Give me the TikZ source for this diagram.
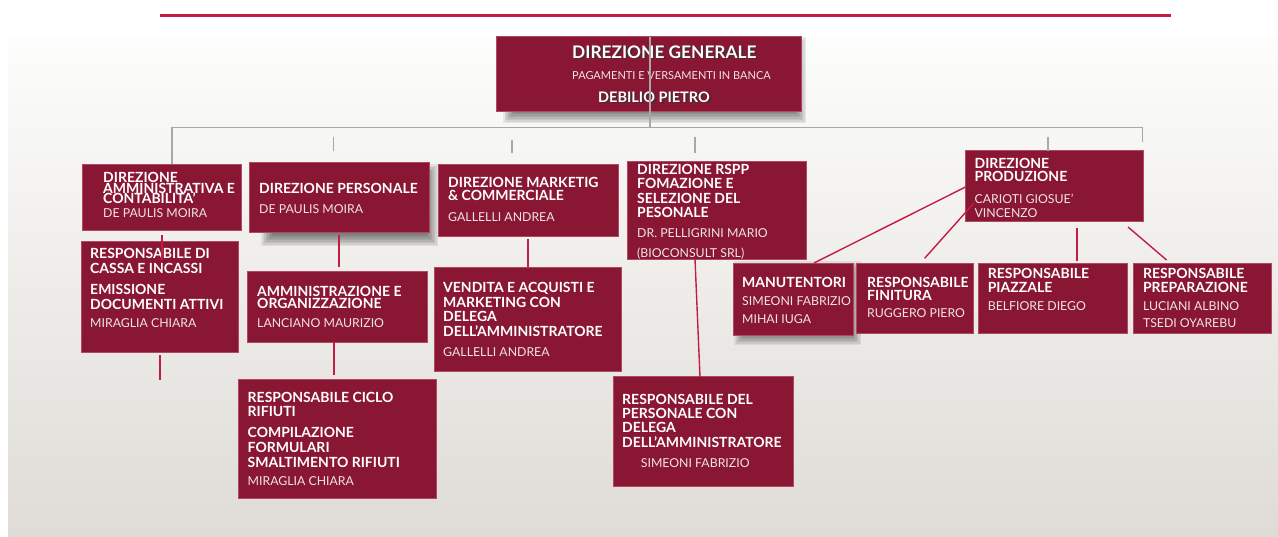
\documentclass[tikz,border=0pt]{standalone}
\usepackage{fontspec}
\setmainfont{Lato}
\definecolor{boxc}{RGB}{137,22,50}
\definecolor{boxedge}{RGB}{176,72,100}
\definecolor{redline}{RGB}{196,28,66}
\definecolor{treeg}{RGB}{168,168,168}
\definecolor{bgtop}{RGB}{253,253,252}
\definecolor{bgbot}{RGB}{223,220,215}
\definecolor{nmtext}{RGB}{240,228,232}
\newcommand\nolsk{\lineskiplimit=-50pt\relax\lineskip=0pt\relax}
% soft drop shadow: x1 y1 x2 y2 dx dy
\newcommand\softshadow[6]{%
  \foreach \k in {0,...,8}{%
    \pgfmathsetmacro\ee{6-1.5*\k}%
    \fill[black, opacity=0.07] ({#1+#5-\ee},{#2+#6-\ee}) rectangle ({#3+#5+\ee},{#4+#6+\ee});
  }}
\tikzset{
  box/.style={fill=boxc, draw=boxedge, line width=0.8pt, anchor=north west, inner sep=0pt, outer sep=0pt},
  hd/.style={anchor=north west, inner sep=0pt, text=white, align=left,
    font={\bfseries\fontsize{14}{#1}\selectfont\nolsk}},
  hd/.default=14.5,
  nm/.style={anchor=north west, inner sep=0pt, text=nmtext, align=left,
    font={\fontsize{12.3}{#1}\selectfont\nolsk}},
  nm/.default=14,
  conn/.style={draw=redline, line width=1.4pt},
  tree/.style={draw=treeg, line width=1.6pt},
  dgbig/.style={anchor=west, inner sep=0pt, font={\bfseries\fontsize{17.3}{19}\selectfont}},
  dgsmall/.style={anchor=west, inner sep=0pt, font={\fontsize{11}{13}\selectfont}},
  dgname/.style={anchor=west, inner sep=0pt, font={\bfseries\fontsize{14.5}{16}\selectfont}},
}
\begin{document}
\begin{tikzpicture}[x=1pt,y=-1pt]
\useasboundingbox (0,0) rectangle (1278,536);
\fill[white] (0,0) rectangle (1278,536);
\shade[top color=bgtop, bottom color=bgbot] (8,37) rectangle (1278,536);
% top bar
\coordinate (barL) at (160,15);
\coordinate (barR) at (1171,15);
\draw[redline, line width=3pt] (barL) -- (barR);

% ---------- shadows ----------
\softshadow{506}{36}{797}{110}{3}{7}
\softshadow{262}{162}{427}{232}{5}{8}
\softshadow{738}{263}{853}{335}{2}{4}

% ---------- boxes ----------
\node[box, minimum width=305pt, minimum height=75pt] (dg) at (496,36) {};
\node[box, minimum width=159pt, minimum height=66pt] (amm) at (82,164) {};
\node[box, minimum width=157pt, minimum height=111pt] (cassa) at (81,241) {};
\node[box, minimum width=180pt, minimum height=70pt] (pers) at (249,162) {};
\node[box, minimum width=180pt, minimum height=71pt] (ao) at (247,271) {};
\node[box, minimum width=198pt, minimum height=119pt] (ciclo) at (238,379) {};
\node[box, minimum width=180pt, minimum height=72pt] (mkt) at (438,164) {};
\node[box, minimum width=187pt, minimum height=104pt] (vend) at (434,267) {};
\node[box, minimum width=179pt, minimum height=98pt] (rspp) at (627,161) {};
\node[box, minimum width=180pt, minimum height=110pt] (rpers) at (613.5,376) {};
\node[box, minimum width=178pt, minimum height=71pt] (prod) at (965,150) {};
\node[box, minimum width=120pt, minimum height=72pt] (man) at (733,263) {};
\node[box, minimum width=117pt, minimum height=70pt] (fin) at (856,263) {};
\node[box, minimum width=149pt, minimum height=70pt] (piaz) at (978,263) {};
\node[box, minimum width=138pt, minimum height=70pt] (prep) at (1133,263) {};

% ---------- texts ----------
\node[dgbig, text=black!80, opacity=0.7] (dgt1s) at (574,53.5) {DIREZIONE GENERALE};
\node[dgbig, text=white] (dgt1) at (572,52) {DIREZIONE GENERALE};
\node[dgsmall, text=nmtext] (dgt2) at (572,76) {PAGAMENTI E VERSAMENTI IN BANCA};
\node[dgname, text=black!80, opacity=0.7] (dgt3s) at (600,98.5) {DEBILIO PIETRO};
\node[dgname, text=white] (dgt3) at (598,97) {DEBILIO PIETRO};

\node[hd=10.5] (ammh) at (103,172.5) {DIREZIONE\\AMMINISTRATIVA E\\CONTABILITA’};
\node[nm] (ammn) at (103,208.6) {DE PAULIS MOIRA};

\node[hd=15] (cassah) at (90,248) {RESPONSABILE DI\\CASSA E INCASSI\\[6pt]EMISSIONE\\DOCUMENTI ATTIVI};
\node[nm] (cassan) at (90,318.6) {MIRAGLIA CHIARA};

\node[hd] (persh) at (259,183) {DIREZIONE PERSONALE};
\node[nm] (persn) at (259,204.6) {DE PAULIS MOIRA};

\node[hd=12.5] (aoh) at (257,286) {AMMINISTRAZIONE E\\ORGANIZZAZIONE};
\node[nm] (aon) at (257,318.6) {LANCIANO MAURIZIO};

\node[hd=14.8] (cicloh) at (247.5,391.7) {RESPONSABILE CICLO\\RIFIUTI\\[6pt]COMPILAZIONE\\FORMULARI\\SMALTIMENTO RIFIUTI};
\node[nm] (ciclon) at (247.5,476.3) {MIRAGLIA CHIARA};

\node[hd=13] (mkth) at (448,177) {DIREZIONE MARKETIG\\\& COMMERCIALE};
\node[nm] (mktn) at (448,212.6) {GALLELLI ANDREA};

\node[hd=14.7] (vendh) at (443,282) {VENDITA E ACQUISTI E\\MARKETING CON\\DELEGA\\DELL’AMMINISTRATORE};
\node[nm] (vendn) at (443,347.6) {GALLELLI ANDREA};

\node[hd=14.3] (rspph) at (637,164) {DIREZIONE RSPP\\FOMAZIONE E\\SELEZIONE DEL\\PESONALE};
\node[nm=20] (rsppn) at (637,228.6) {DR. PELLIGRINI MARIO\\(BIOCONSULT SRL)};

\node[hd=14.2] (rpersh) at (622,394) {RESPONSABILE DEL\\PERSONALE CON\\DELEGA\\DELL’AMMINISTRATORE};
\node[nm] (rpersn) at (640.7,458.3) {SIMEONI FABRIZIO};

\node[hd=13.3] (prodh) at (974.4,157.7) {DIREZIONE\\PRODUZIONE};
\node[nm=14] (prodn) at (974.4,193.6) {CARIOTI GIOSUE'\\VINCENZO};

\node[hd] (manh) at (742,276.7) {MANUTENTORI};
\node[nm=18] (mann) at (742,296.6) {SIMEONI FABRIZIO\\MIHAI IUGA};

\node[hd=13.3] (finh) at (867,276.7) {RESPONSABILE\\FINITURA};
\node[nm] (finn) at (867,308.6) {RUGGERO PIERO};

\node[hd=13.3] (piazh) at (987.6,268.3) {RESPONSABILE\\PIAZZALE};
\node[nm] (piazn) at (987.6,301.3) {BELFIORE DIEGO};

\node[hd=13.3] (preph) at (1142.8,268.3) {RESPONSABILE\\PREPARAZIONE};
\node[nm=17] (prepn) at (1142.8,301.3) {LUCIANI ALBINO\\TSEDI OYAREBU};

% ---------- gray tree ----------
\coordinate (dgtop) at (650,37);
\coordinate (hub) at (650,127.3);
\coordinate (hL) at (171.7,127.3);
\coordinate (hR) at (1142.3,127.3);
\coordinate (dL) at (171.7,163.5);
\coordinate (dR) at (1142.3,142.3);
\coordinate (t1a) at (333.3,136.7); \coordinate (t1b) at (333.3,150.7);
\coordinate (t2a) at (511.7,140);   \coordinate (t2b) at (511.7,152.7);
\coordinate (t3a) at (695,136.7);   \coordinate (t3b) at (695,153);
\coordinate (t4a) at (1047.7,136.7);\coordinate (t4b) at (1047.7,150.7);
\draw[tree] (dgtop) -- (hub);
\draw[tree] (dL) -- (hL) -- (hR) -- (dR);
\draw[tree] (t1a) -- (t1b);
\draw[tree] (t2a) -- (t2b);
\draw[tree] (t3a) -- (t3b);
\draw[tree] (t4a) -- (t4b);

% ---------- red connectors ----------
\coordinate (c1a) at (162,235);  \coordinate (c1b) at (162,260);
\coordinate (c2a) at (160,355);  \coordinate (c2b) at (160,380);
\coordinate (c3a) at (339,235);  \coordinate (c3b) at (339,267);
\coordinate (c4a) at (334,342);  \coordinate (c4b) at (334,375);
\coordinate (c5a) at (528,239);  \coordinate (c5b) at (528,267);
\coordinate (c6a) at (695,259);  \coordinate (c6b) at (700,377);
\coordinate (c7a) at (965.5,187);\coordinate (c7b) at (814,263);
\coordinate (c8a) at (974,203);  \coordinate (c8b) at (924.6,258.3);
\coordinate (c9a) at (1077,228); \coordinate (c9b) at (1077,261);
\coordinate (c10a) at (1128,227);\coordinate (c10b) at (1166.6,260);
\draw[conn] (c1a) -- (c1b);
\draw[conn] (c2a) -- (c2b);
\draw[conn] (c3a) -- (c3b);
\draw[conn] (c4a) -- (c4b);
\draw[conn] (c5a) -- (c5b);
\draw[conn] (c6a) -- (c6b);
\draw[conn] (c7a) -- (c7b);
\draw[conn] (c8a) -- (c8b);
\draw[conn] (c9a) -- (c9b);
\draw[conn] (c10a) -- (c10b);
\end{tikzpicture}
\end{document}
